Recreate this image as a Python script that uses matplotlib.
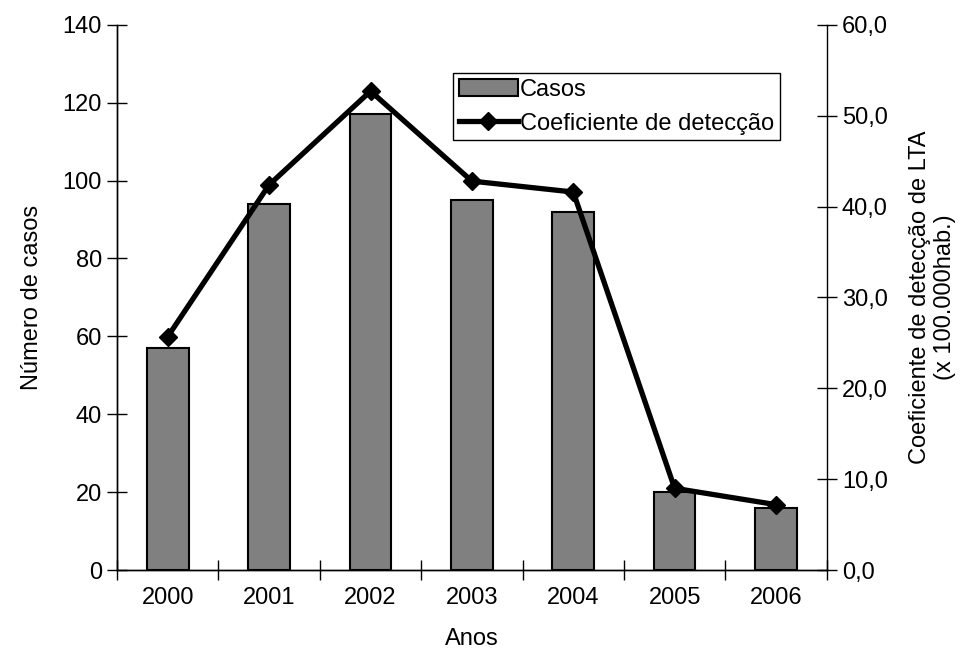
import numpy as np
import matplotlib
matplotlib.use("Agg")
import matplotlib.pyplot as plt
from matplotlib.ticker import FuncFormatter

plt.rcParams['font.family'] = ['Liberation Sans', 'DejaVu Sans']

anos = ['2000', '2001', '2002', '2003', '2004', '2005', '2006']
casos = [57, 94, 117, 95, 92, 20, 16]
coef = [25.7, 42.4, 52.7, 42.8, 41.6, 9.0, 7.2]

x = np.arange(len(anos))
fs = 17

fig = plt.figure(figsize=(9.68, 6.53), dpi=100)
ax = fig.add_axes([0.121, 0.127, 0.733, 0.835])
ax2 = ax.twinx()

bars = ax.bar(x, casos, width=0.41, color='#808080', edgecolor='black', linewidth=1.5, label='Casos')
line, = ax2.plot(x, coef, color='black', lw=3.8, marker='D', ms=9, label='Coeficiente de detecção')

ax.set_xlim(-0.5, len(anos) - 0.5)
ax.set_ylim(0, 140)
ax2.set_ylim(0, 60)
ax.set_yticks(range(0, 141, 20))
ax2.set_yticks(range(0, 61, 10))
ax2.yaxis.set_major_formatter(FuncFormatter(lambda v, p: f"{v:.1f}".replace('.', ',')))

ax.set_xticks(x)
ax.set_xticklabels(anos)
ax.set_xticks(np.arange(-0.5, len(anos), 1), minor=True)
ax.tick_params(axis='x', which='major', length=0, pad=12, labelsize=fs)
ax.tick_params(axis='x', which='minor', direction='inout', length=14, width=1)
ax.tick_params(axis='y', direction='inout', length=14, width=1, labelsize=fs, pad=4)
ax2.tick_params(axis='y', direction='inout', length=14, width=1, labelsize=fs, pad=4)

for a in (ax, ax2):
    a.spines['top'].set_visible(False)
    for s in ('left', 'right', 'bottom'):
        a.spines[s].set_linewidth(1)
ax.spines['right'].set_visible(False)

ax.set_xlabel('Anos', fontsize=fs, labelpad=14)
ax.set_ylabel('Número de casos', fontsize=fs, labelpad=14)
ax2.set_ylabel('Coeficiente de detecção de LTA\n(x 100.000hab.)', fontsize=fs, labelpad=15)

leg = ax2.legend([bars, line], ['Casos', 'Coeficiente de detecção'],
                 loc='upper left', bbox_to_anchor=(0.473, 0.912), fontsize=fs,
                 frameon=True, fancybox=False, edgecolor='black', framealpha=1,
                 numpoints=1, handlelength=2.5, handletextpad=0.1,
                 borderpad=0.25, labelspacing=0.5, borderaxespad=0)
leg.get_frame().set_linewidth(1)

fig.savefig('out.png', dpi=100)
